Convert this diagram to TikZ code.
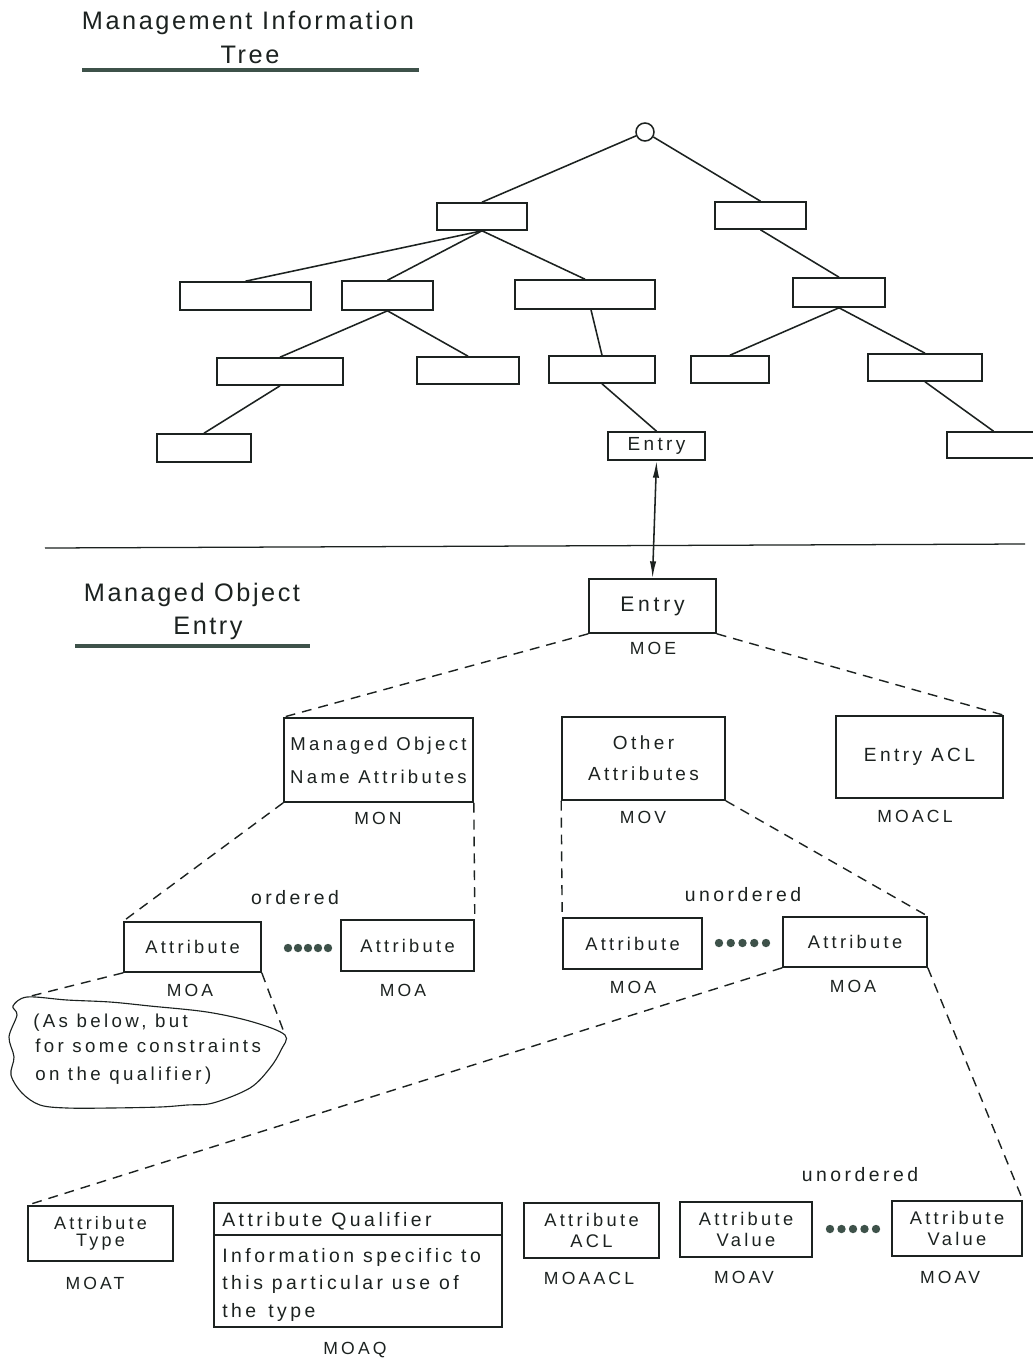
\documentclass[tikz,border=0pt]{standalone}
\usepackage{fontspec}
\setmainfont{Liberation Sans}[LetterSpace=18]
\newfontfamily\ttlfont{Liberation Sans}[LetterSpace=10]
\usetikzlibrary{arrows.meta,calc}
\definecolor{ink}{RGB}{28,34,32}
\definecolor{dotc}{RGB}{62,82,74}
\newcommand\bx[7][]{\node[box,minimum width={(#5-#3)*0.025cm},minimum height={(#6-#4)*0.025cm},#1] (#2) at ({(#3+#5)/2},{(#4+#6)/2}) {#7};}
\begin{document}
\begin{tikzpicture}[x=0.025cm,y=-0.025cm,
  box/.style={draw=ink,line width=1.15pt,inner sep=0pt,align=center,text=ink,font=\fontsize{13}{22}\selectfont},
  lbl/.style={inner sep=0pt,text=ink,font=\fontsize{12.5}{15}\selectfont},
  txt/.style={inner sep=0pt,text=ink,font=\fontsize{13.8}{19.5}\selectfont},
  ttl/.style={inner sep=0pt,text=ink,font=\ttlfont\fontsize{18}{22}\selectfont},
  ul/.style={draw=dotc,line width=2.4pt},
  ln/.style={draw=ink,line width=1.1pt},
  dsh/.style={draw=ink,line width=1pt,dash pattern=on 7pt off 5pt},
  tip/.style={{Latex[length=12pt,width=4.5pt]}-{Latex[length=12pt,width=4.5pt]}}]
\useasboundingbox (0,0) rectangle (1033,1362);
\fill[white] (0,0) rectangle (1033,1362);
\begin{scope}
\clip (0,0) rectangle (1033,1362);
% titles
\node[ttl,anchor=base] (ttl1) at (248,29) {Management Information};
\node[ttl,anchor=base] (ttl2) at (250,63) {Tree};
\draw[ul] (82,70) -- (419,70);
% tree
\node[circle,draw=ink,line width=1.1pt,minimum size=0.45cm,inner sep=0pt] (rt) at (645,132) {};
\bx{tA}{437}{203}{527}{230}{}
\bx{tB}{715}{202}{806}{229}{}
\bx{tC}{180}{282}{311}{310}{}
\bx{tD}{342}{281}{433}{310}{}
\bx{tE}{515}{280}{655}{309}{}
\bx{tF}{793}{278}{885}{307}{}
\bx{tG}{217}{358}{343}{385}{}
\bx{tH}{417}{357}{519}{384}{}
\bx{tI}{549}{356}{655}{383}{}
\bx{tJ}{691}{356}{769}{383}{}
\bx{tK}{868}{354}{982}{381}{}
\bx{tL}{157}{434}{251}{462}{}
\bx[font=\fontsize{13.5}{16}\selectfont]{tEntry}{608}{432}{705}{460}{Entry}
\bx{tM}{947}{432}{1050}{458}{}
\draw[ln] (rt) -- (tA.north);
\draw[ln] (rt) -- (tB.north);
\draw[ln] (tA.south) -- (tC.north);
\draw[ln] (tA.south) -- (tD.north);
\draw[ln] (tA.south) -- (tE.north);
\draw[ln] (tD.south) -- (tG.north);
\draw[ln] (tD.south) -- (tH.north);
\draw[ln] ([xshift=0.15cm]tE.south) -- (tI.north);
\draw[ln] (tG.south) -- (tL.north);
\draw[ln] (tI.south) -- (tEntry.north);
\draw[ln] (tB.south) -- (tF.north);
\draw[ln] (tF.south) -- (tJ.north);
\draw[ln] (tF.south) -- (tK.north);
\draw[ln] (tK.south) -- ([xshift=-0.125cm]tM.north);
% separator
\draw[draw=ink,line width=0.9pt] (45,548) -- (1025,544);
% section title
\node[ttl,anchor=base] (mo1) at (192,601) {Managed Object};
\node[ttl,anchor=base] (mo2) at (208,634) {Entry};
\draw[ul] (75,646) -- (310,646);
% MO entry
\bx[font=\fontsize{15}{18}\selectfont]{MOE}{589}{579}{716}{633}{Entry}
\node[lbl] (lMOE) at (653,648) {MOE};
\draw[ln,tip] (tEntry.south) -- (MOE.north);
\bx[font=\fontsize{13.2}{23.5}\selectfont]{MON}{284}{718}{473}{802}{Managed Object\\Name Attributes}
\node[lbl] (lMON) at (378,818) {MON};
\bx[font=\fontsize{13.5}{22}\selectfont]{MOV}{562}{717}{725}{800}{Other\\Attributes}
\node[lbl] (lMOV) at (643,817) {MOV};
\bx[font=\fontsize{13.6}{18}\selectfont]{MOACL}{836}{716}{1003}{798}{Entry ACL}
\node[lbl] (lMOACL) at (915,816) {MOACL};
\draw[dsh] (MOE.south west) -- (MON.north west);
\draw[dsh] (MOE.south east) -- (MOACL.north east);
% attributes
\bx{A1}{124}{922}{261}{972}{Attribute}
\bx{A2}{341}{920}{474}{971}{Attribute}
\bx{A3}{563}{918}{702}{969}{Attribute}
\bx{A4}{783}{917}{927}{967}{Attribute}
\node[lbl] (lA1) at (190,990) {MOA};
\node[lbl] (lA2) at (403,990) {MOA};
\node[lbl] (lA3) at (633,987) {MOA};
\node[lbl] (lA4) at (853,986) {MOA};
\node[txt] (ord) at (295,898) {ordered};
\node[txt] (uno1) at (743,895) {unordered};
\foreach \k in {0,...,4} \fill[dotc] ({288+10*\k},948) circle[radius=0.105cm];
\foreach \k in {0,...,4} \fill[dotc] ({719+11.75*\k},943) circle[radius=0.105cm];
\draw[dsh] (MON.south west) -- (A1.north west);
\draw[dsh] (MON.south east) -- (A2.north east);
\draw[dsh] (MOV.south west) -- (A3.north west);
\draw[dsh] (MOV.south east) -- (A4.north east);
% cloud
\coordinate (cTL) at (27,997);
\coordinate (cR) at (285,1035);
\draw[ink,line width=0.8pt] plot[smooth cycle,tension=0.55] coordinates {(27,997) (67,1000) (110,1002) (150,1006) (207,1012) (253,1022) (285,1035) (281,1050) (270,1068) (250,1088) (213,1103) (187,1105) (160,1107) (110,1108) (67,1108) (40,1105) (22,1093) (11,1075) (14,1057) (9,1037) (17,1015) (13,1006)};
\node[txt,font=\fontsize{13.3}{19}\selectfont,anchor=base west] (cl1) at (33,1027) {(As below, but};
\node[txt,font=\fontsize{13.3}{19}\selectfont,anchor=base west] (cl2) at (35,1052) {for some constraints};
\node[txt,font=\fontsize{13.3}{19}\selectfont,anchor=base west] (cl3) at (35,1080) {on the qualifier)};
\draw[dsh] (A1.south west) -- (cTL);
\draw[dsh] (A1.south east) -- (cR);
% bottom row
\bx[font=\fontsize{12.8}{12.2}\selectfont]{AT}{28}{1206}{173}{1261}{Attribute\\Type}
\node[lbl] (lAT) at (95,1283) {MOAT};
\bx{Q}{214}{1203}{502}{1327}{}
\draw[ln] (Q.west |- 0,1235) -- (Q.east |- 0,1235);
\node[txt,anchor=west] (qh) at (222,1221) {Attribute Qualifier};
\node[txt,anchor=base west] (qb1) at (222,1262) {Information specific to};
\node[txt,anchor=base west] (qb2) at (222,1289) {this particular use of};
\node[txt,anchor=base west] (qb3) at (222,1317) {the\, type};
\node[lbl] (lQ) at (355,1350) {MOAQ};
\bx[font=\fontsize{13}{15.5}\selectfont]{AACL}{524}{1203}{659}{1258}{Attribute\\ACL}
\node[lbl] (lAACL) at (589,1278) {MOAACL};
\bx[font=\fontsize{13}{15}\selectfont]{AV1}{680}{1202}{812}{1257}{Attribute\\Value}
\node[lbl] (lAV1) at (744,1277) {MOAV};
\bx[font=\fontsize{13}{15}\selectfont]{AV2}{892}{1201}{1022}{1256}{Attribute\\Value}
\node[lbl] (lAV2) at (950,1277) {MOAV};
\node[txt] (uno2) at (860,1175) {unordered};
\foreach \k in {0,...,4} \fill[dotc] ({830+11.5*\k},1229) circle[radius=0.105cm];
\draw[dsh] (A4.south west) -- (AT.north west);
\draw[dsh] (A4.south east) -- (AV2.north east);
\end{scope}
\end{tikzpicture}
\end{document}
